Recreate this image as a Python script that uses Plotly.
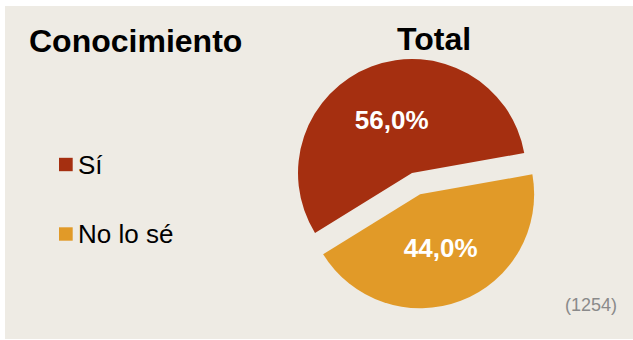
import plotly.graph_objects as go

# Data
categories = ["Sí", "No lo sé"]
values = [56.0, 44.0]
colors = ["#A52F10", "#E19A28"]
pulls = [0.0, 0.2]
chart_title = "Conocimiento"
pie_title = "Total"
sample_note = "(1254)"

W, H = 633, 340
BG = "#EEEBE4"

def px_x(x):
    return x / W

def px_y(y):
    return 1 - y / H

fig = go.Figure()
fig.add_trace(go.Pie(
    labels=categories,
    values=values,
    marker=dict(colors=colors, line=dict(width=0)),
    pull=pulls,
    sort=False,
    direction="clockwise",
    rotation=-121.7,
    textposition="inside",
    insidetextorientation="horizontal",
    texttemplate="%{percent:.1%}",
    textfont=dict(family="Liberation Sans, Arial, sans-serif", size=26, color="white", weight="bold"),
    hoverinfo="label+percent",
    domain=dict(x=[275.2 / W, 548.8 / W], y=[px_y(309.8), px_y(36.2)]),
    showlegend=False,
))

shapes = [
    dict(type="rect", xref="paper", yref="paper", x0=px_x(5), x1=1.0, y0=px_y(339), y1=px_y(6),
         fillcolor=BG, line=dict(width=0), layer="below"),
]
annotations = [
    dict(text="<b>" + chart_title + "</b>", x=px_x(27), y=px_y(41.0), xref="paper", yref="paper",
         xanchor="left", yanchor="middle", showarrow=False,
         font=dict(family="Liberation Sans, Arial, sans-serif", size=32, color="black")),
    dict(text="<b>" + pie_title + "</b>", x=px_x(433.7), y=px_y(38.7), xref="paper", yref="paper",
         xanchor="center", yanchor="middle", showarrow=False,
         font=dict(family="Liberation Sans, Arial, sans-serif", size=32, color="black")),
    dict(text=sample_note, x=px_x(591), y=px_y(304.6), xref="paper", yref="paper",
         xanchor="center", yanchor="middle", showarrow=False,
         font=dict(family="Liberation Sans, Arial, sans-serif", size=18, color="#8A8A8A")),
]

# Manual legend (larger spacing than Plotly's built-in legend allows)
legend_rows = [164.5, 234.0]
for cat, col, yc in zip(categories, colors, legend_rows):
    shapes.append(dict(type="rect", xref="paper", yref="paper",
                       x0=px_x(59), x1=px_x(72.7), y0=px_y(yc + 6.7), y1=px_y(yc - 6.7),
                       fillcolor=col, line=dict(width=0)))
    annotations.append(dict(text=cat, x=px_x(76), y=px_y(yc), xref="paper", yref="paper",
                            xanchor="left", yanchor="middle", showarrow=False,
                            font=dict(family="Liberation Sans, Arial, sans-serif", size=26, color="black")))

fig.update_layout(
    width=W, height=H,
    margin=dict(l=0, r=0, t=0, b=0),
    paper_bgcolor="white",
    plot_bgcolor=BG,
    separators=",.",
    shapes=shapes,
    annotations=annotations,
)

fig.write_html("out.html", config={"displayModeBar": False},
               post_script="document.body.style.margin='0';")
